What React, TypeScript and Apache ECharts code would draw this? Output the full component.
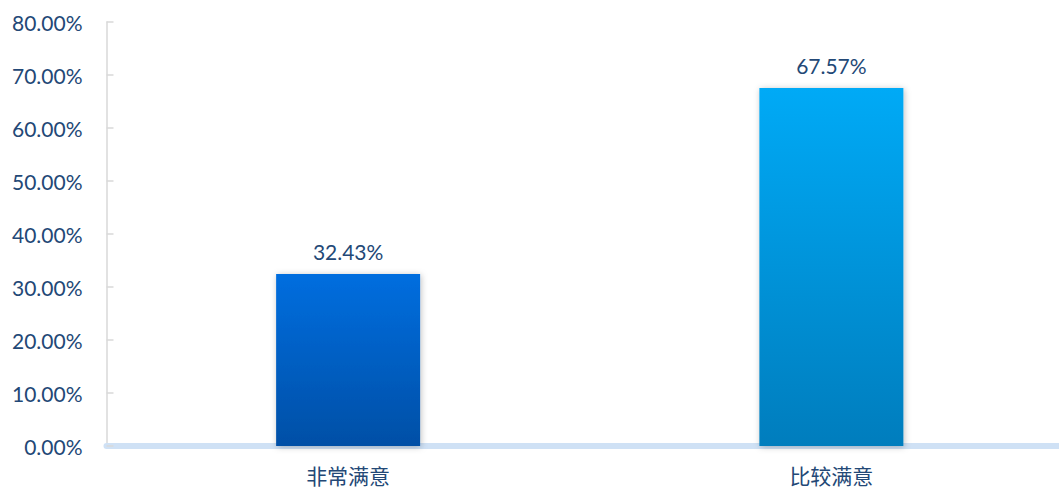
import React, { useEffect, useRef } from "react";
import * as echarts from "echarts";

const categories = ["非常满意", "比较满意"];
const values = [32.43, 67.57];
const barTopColors = ["#006EDF", "#00AAF6"];
const barBottomColors = ["#004FA6", "#007DBD"];

export default function App() {
  const ref = useRef<HTMLDivElement>(null);
  useEffect(() => {
    document.body.style.margin = "0";
    const chart = echarts.init(ref.current!, null, { renderer: "svg" });
    const textColor = "#234876";
    chart.setOption({
      animation: false,
      backgroundColor: "#ffffff",
      grid: { left: 106.5, right: 0, top: 22, bottom: 44, containLabel: false },
      xAxis: {
        type: "category",
        data: categories,
        offset: 2,
        axisLine: { show: true, lineStyle: { color: "#CFE1F5", width: 6 } },
        axisTick: { show: false },
        axisLabel: {
          color: textColor,
          fontFamily: "Noto Sans CJK SC",
          fontSize: 21,
          lineHeight: 22,
          margin: 16,
        },
      },
      yAxis: {
        type: "value",
        min: 0,
        max: 80,
        interval: 10,
        axisLine: { show: true, lineStyle: { color: "#D9D9D9", width: 1.5 } },
        axisTick: { show: true, inside: true, length: 7, lineStyle: { color: "#D9D9D9", width: 1.5 } },
        splitLine: { show: false },
        axisLabel: {
          color: textColor,
          fontFamily: "Lato",
          fontSize: 21,
          margin: 24,
          formatter: (v: number) => v.toFixed(2) + "%",
        },
      },
      series: [
        {
          type: "bar",
          barWidth: 144,
          data: values.map((v, i) => ({
            value: v,
            itemStyle: {
              color: new echarts.graphic.LinearGradient(0, 0, 0, 1, [
                { offset: 0, color: barTopColors[i] },
                { offset: 1, color: barBottomColors[i] },
              ]),
              shadowBlur: 6,
              shadowColor: "rgba(0,0,0,0.25)",
              shadowOffsetX: 1,
              shadowOffsetY: 1,
            },
          })),
          label: {
            show: true,
            position: "top",
            distance: 12,
            color: textColor,
            fontFamily: "Lato",
            fontSize: 21,
            formatter: (p: any) => p.value.toFixed(2) + "%",
          },
        },
      ],
    });
    return () => chart.dispose();
  }, []);
  return (
    <div style={{ width: 1059, height: 490, overflow: "hidden", position: "relative" }}>
      <div ref={ref} style={{ width: 1073, height: 490 }} />
    </div>
  );
}
